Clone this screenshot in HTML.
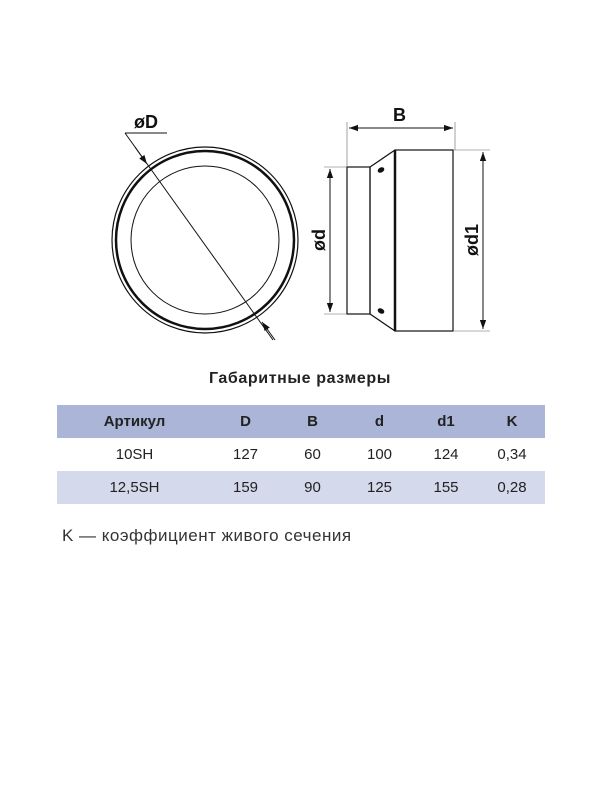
<!DOCTYPE html>
<html><head><meta charset="utf-8"><style>
body{margin:0;width:600px;height:800px;background:#fff;font-family:"Liberation Sans",sans-serif;position:relative;overflow:hidden}
.t{position:absolute;left:0;width:600px;text-align:center;top:370px;font-weight:bold;font-size:16px;letter-spacing:0.6px;color:#222}
table{position:absolute;left:57px;top:405px;width:488px;border-collapse:collapse;font-size:15px;color:#222}
td{text-align:center;height:33px;padding:0}
tr.h{background:#abb5d7;font-weight:bold}
tr.g{background:#d4d9ec}
.f{position:absolute;left:62px;top:526px;font-size:17px;letter-spacing:0.5px;color:#333}
</style></head><body>
<svg width="600" height="360" style="position:absolute;left:0;top:0" xmlns="http://www.w3.org/2000/svg">
<defs><marker id="a" viewBox="0 0 10 10" refX="10" refY="5" markerWidth="9" markerHeight="9" orient="auto-start-reverse" markerUnits="userSpaceOnUse"><path d="M0,1.5 L10,5 L0,8.5z" fill="#111"/></marker></defs>
<g fill="none" stroke="#111">
<circle cx="205" cy="240" r="93" stroke-width="1.2"/>
<circle cx="205" cy="240" r="89" stroke-width="2.5"/>
<circle cx="205" cy="240" r="74" stroke-width="1"/>
<line x1="125" y1="133" x2="167" y2="133" stroke-width="1"/>
<line x1="125" y1="133" x2="273" y2="340" stroke-width="1"/>
<line x1="135" y1="147" x2="147" y2="164" marker-end="url(#a)"/>
<line x1="275" y1="340" x2="262" y2="322" stroke-width="1" marker-end="url(#a)"/>
<rect x="347" y="167" width="23" height="147" stroke-width="1.2"/>
<path d="M370,167 L395,150 M370,314 L395,331" stroke-width="1.2"/>
<line x1="370" y1="167" x2="370" y2="314" stroke-width="1.2"/>
<rect x="395" y="150" width="58" height="181" stroke-width="1.2"/>
<line x1="395" y1="150" x2="395" y2="331" stroke-width="2.5"/>
<ellipse cx="381" cy="170" rx="3" ry="2" fill="#111" transform="rotate(-30 381 170)"/>
<ellipse cx="381" cy="311" rx="3" ry="2" fill="#111" transform="rotate(30 381 311)"/>
<g stroke-width="0.6" stroke="#666">
<line x1="347" y1="122" x2="347" y2="167"/><line x1="455" y1="122" x2="455" y2="150"/>
<line x1="324" y1="167" x2="347" y2="167"/><line x1="324" y1="314" x2="347" y2="314"/>
<line x1="453" y1="150" x2="490" y2="150"/><line x1="453" y1="331" x2="490" y2="331"/>
</g>
<line x1="349" y1="128" x2="453" y2="128" stroke-width="1" marker-start="url(#a)" marker-end="url(#a)"/>
<line x1="330" y1="169" x2="330" y2="312" stroke-width="1" marker-start="url(#a)" marker-end="url(#a)"/>
<line x1="483" y1="152" x2="483" y2="329" stroke-width="1" marker-start="url(#a)" marker-end="url(#a)"/>
</g>
<g font-family="Liberation Sans" font-weight="bold" font-size="18" fill="#111">
<text x="134" y="128">øD</text>
<text x="393" y="121">B</text>
<text transform="translate(325,240) rotate(-90)" text-anchor="middle">ød</text>
<text transform="translate(478,240) rotate(-90)" text-anchor="middle">ød1</text>
</g>
</svg>
<div class="t">Габаритные размеры</div>
<table>
<colgroup><col style="width:155px"><col style="width:67px"><col style="width:67px"><col style="width:67px"><col style="width:66px"><col></colgroup>
<tr class="h"><td>Артикул</td><td>D</td><td>B</td><td>d</td><td>d1</td><td>K</td></tr>
<tr><td>10SH</td><td>127</td><td>60</td><td>100</td><td>124</td><td>0,34</td></tr>
<tr class="g"><td>12,5SH</td><td>159</td><td>90</td><td>125</td><td>155</td><td>0,28</td></tr>
</table>
<div class="f">K — коэффициент живого сечения</div>
</body></html>
